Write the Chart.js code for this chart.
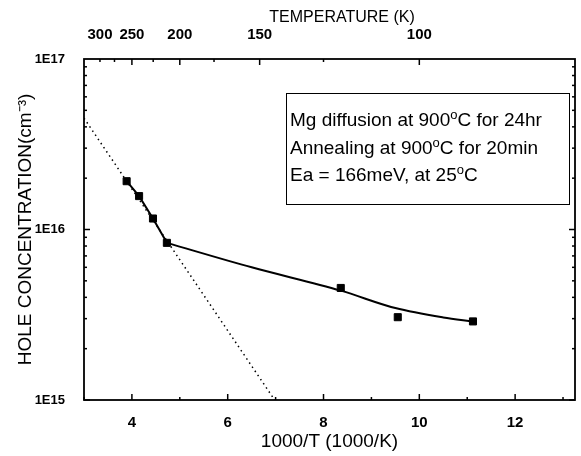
<!DOCTYPE html>
<html>
<head>
<meta charset="utf-8">
<script src="https://cdn.jsdelivr.net/npm/chart.js@4.4.0/dist/chart.umd.min.js"></script>
<style>
  html, body { margin: 0; padding: 0; background: #fff; }
  #wrap { width: 581px; height: 456px; }
</style>
</head>
<body>
<div id="wrap"><canvas id="chart"></canvas></div>
<script>
// measured points (1000/T, hole concentration)
const invT = [3.89, 4.15, 4.44, 4.73, 8.36, 9.55, 11.12];
const holeConc = [1.92e16, 1.57e16, 1.16e16, 8.35e15, 4.54e15, 3.06e15, 2.89e15];

// solid guide: straight through the steep part, smooth through the tail
const steepX = [3.89, 4.15, 4.44, 4.73];
const steepY = [1.92e16, 1.57e16, 1.16e16, 8.35e15];
const tailX = [4.73, 6.5, 8.36, 9.5, 10.5, 11.12];
const tailY = [8.35e15, 6.0e15, 4.38e15, 3.46e15, 3.05e15, 2.89e15];

// dotted slope line (Ea = 166 meV)
const slopeX = [3, 6.98];
const slopeY = [4.5e16, 1e15];

const xTicks = [4, 6, 8, 10, 12];
const xMinorTicks = [3, 5, 7, 9, 11, 13];
const yTicks = [1e15, 1e16, 1e17];
const tempLabels = [300, 250, 200, 150, 100];
const tempMajor = [250, 200, 150, 100];
const tempMinor = [300, 275, 225, 175, 125];

const noteLines = [
  ['Mg diffusion at 900', 'o', 'C for 24hr'],
  ['Annealing at 900', 'o', 'C for 20min'],
  ['Ea = 166meV, at 25', 'o', 'C']
];

const FONT = "'Liberation Sans', Arial, sans-serif";

function pts(xs, ys) {
  return xs.map((v, i) => ({ x: v, y: ys[i] }));
}

// inward ticks, frame, note box and top title
const frameAndTicks = {
  id: 'frameAndTicks',
  afterDraw(chart) {
    const { ctx, chartArea: a, scales } = chart;
    const x = scales.x, y = scales.y, xt = scales.xTop;
    const seg = (x1, y1, x2, y2) => { ctx.beginPath(); ctx.moveTo(x1, y1); ctx.lineTo(x2, y2); ctx.stroke(); };
    ctx.save();
    ctx.strokeStyle = '#000';
    ctx.fillStyle = '#000';
    ctx.lineWidth = 1.5;

    xTicks.forEach(v => { const p = x.getPixelForValue(v); seg(p, a.bottom, p, a.bottom - 6); });
    xMinorTicks.forEach(v => { const p = x.getPixelForValue(v); seg(p, a.bottom, p, a.bottom - 3); });
    tempMajor.forEach(t => { const p = xt.getPixelForValue(1000 / t); seg(p, a.top, p, a.top + 6); });
    tempMinor.forEach(t => { const p = xt.getPixelForValue(1000 / t); seg(p, a.top, p, a.top + 3); });

    [1e15, 1e16].forEach(d => {
      for (let m = 1; m <= 9; m++) {
        const p = y.getPixelForValue(d * m);
        const len = m === 1 ? 6 : 3;
        seg(a.left, p, a.left + len, p);
        seg(a.right, p, a.right - len, p);
      }
    });

    ctx.lineWidth = 1.8;
    ctx.strokeRect(a.left, a.top, a.right - a.left, a.bottom - a.top);

    // note box
    ctx.lineWidth = 1;
    ctx.strokeRect(286.5, 93.5, 283, 111);
    ctx.textAlign = 'left';
    ctx.textBaseline = 'alphabetic';
    noteLines.forEach((parts, i) => {
      const base = 126 + i * 27.5;
      let cx = 290;
      ctx.font = '19px ' + FONT;
      ctx.fillText(parts[0], cx, base);
      cx += ctx.measureText(parts[0]).width;
      ctx.font = '13px ' + FONT;
      ctx.fillText(parts[1], cx, base - 7);
      cx += ctx.measureText(parts[1]).width;
      ctx.font = '19px ' + FONT;
      ctx.fillText(parts[2], cx, base);
    });

    ctx.font = '16px ' + FONT;
    ctx.textAlign = 'center';
    ctx.textBaseline = 'middle';
    ctx.fillText('TEMPERATURE (K)', 342, 18);
    ctx.restore();
  }
};

new Chart(document.getElementById('chart'), {
  type: 'scatter',
  data: {
    datasets: [
      {
        label: 'data',
        data: pts(invT, holeConc),
        pointStyle: 'rect',
        pointRadius: 5,
        backgroundColor: '#000',
        borderColor: '#000',
        showLine: false
      },
      {
        label: 'steep',
        data: pts(steepX, steepY),
        showLine: true,
        borderColor: '#000',
        borderWidth: 2,
        pointRadius: 0,
        tension: 0
      },
      {
        label: 'tail',
        data: pts(tailX, tailY),
        showLine: true,
        borderColor: '#000',
        borderWidth: 2,
        pointRadius: 0,
        cubicInterpolationMode: 'monotone'
      },
      {
        label: 'slope',
        data: pts(slopeX, slopeY),
        showLine: true,
        borderColor: '#000',
        borderWidth: 1.5,
        borderDash: [1.5, 3.5],
        pointRadius: 0
      }
    ]
  },
  options: {
    responsive: true,
    maintainAspectRatio: false,
    animation: false,
    layout: { padding: { left: 0, right: 2, top: 0, bottom: 0 } },
    plugins: { legend: { display: false }, tooltip: { enabled: false } },
    scales: {
      x: {
        type: 'linear',
        position: 'bottom',
        min: 3,
        max: 13.25,
        grid: { display: false },
        border: { display: false },
        afterBuildTicks: s => { s.ticks = xTicks.map(v => ({ value: v })); },
        afterFit: s => { s.height = 56; },
        ticks: { color: '#000', padding: 6, maxRotation: 0, autoSkip: false, font: { family: FONT, size: 15, weight: 'bold' } },
        title: { display: true, text: '1000/T (1000/K)', color: '#000', font: { family: FONT, size: 19 }, padding: { top: 0, bottom: 3 } }
      },
      xTop: {
        type: 'linear',
        position: 'top',
        min: 3,
        max: 13.25,
        grid: { display: false },
        border: { display: false },
        afterBuildTicks: s => { s.ticks = tempLabels.map(t => ({ value: 1000 / t })); },
        afterFit: s => { s.height = 59; },
        ticks: {
          color: '#000', padding: 7, maxRotation: 0, autoSkip: false,
          font: { family: FONT, size: 15, weight: 'bold' },
          callback: v => Math.round(1000 / v)
        }
      },
      y: {
        type: 'logarithmic',
        min: 1e15,
        max: 1e17,
        grid: { display: false },
        border: { display: false },
        afterBuildTicks: s => { s.ticks = yTicks.map(v => ({ value: v })); },
        afterFit: s => { s.width = 84; },
        ticks: {
          color: '#000', padding: 11, autoSkip: false,
          font: { family: FONT, size: 13, weight: 'bold' },
          callback: v => '1E' + Math.round(Math.log10(v))
        },
        title: { display: true, text: 'HOLE CONCENTRATION(cm⁻³)', color: '#000', font: { family: FONT, size: 19 }, padding: { top: 14, bottom: 0 } }
      }
    }
  },
  plugins: [frameAndTicks]
});
</script>
</body>
</html>
